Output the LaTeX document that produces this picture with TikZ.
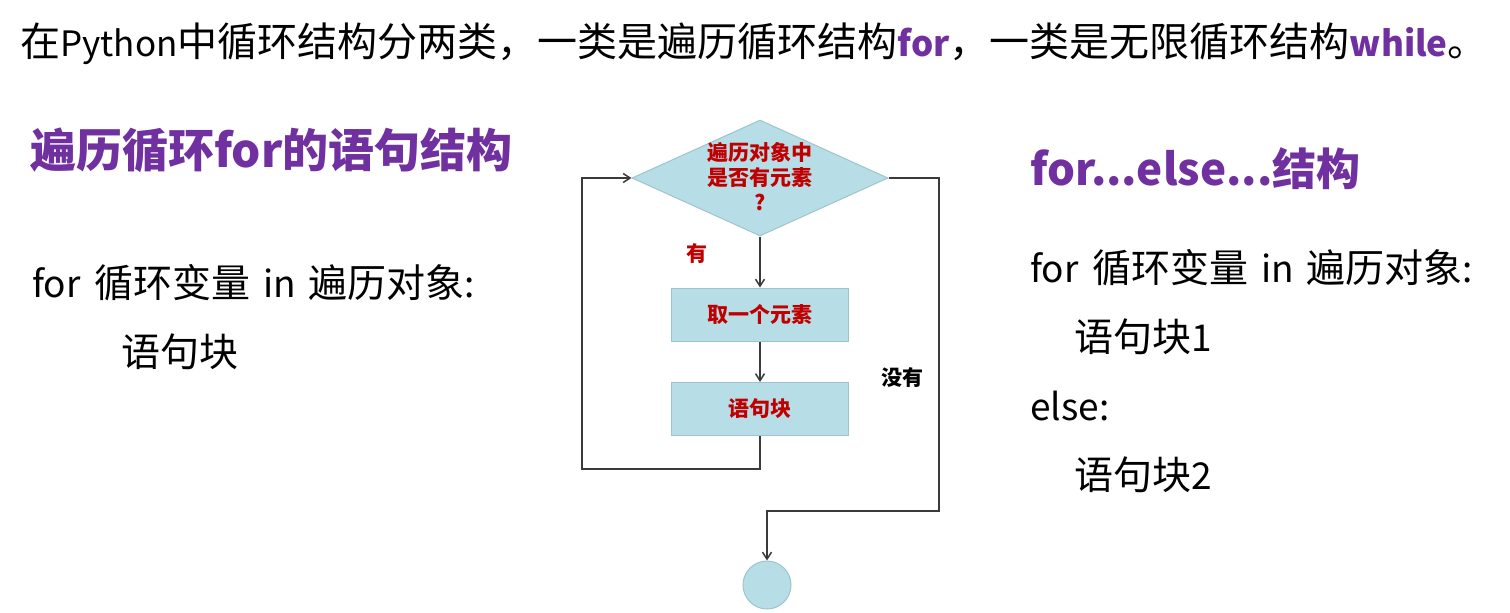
\documentclass[tikz,border=0pt]{standalone}
\usepackage{fontspec}
\usetikzlibrary{arrows.meta,shapes.geometric}
\setmainfont{Noto Sans CJK SC}
\definecolor{purp}{HTML}{7030A0}
\definecolor{redt}{HTML}{C00000}
\definecolor{boxfill}{HTML}{B7DDE6}
\definecolor{boxline}{HTML}{9FC4CD}
\definecolor{conn}{HTML}{3A3A3A}
\newcommand\titlelat[1]{{\fontsize{35}{40}\selectfont #1}}
\newcommand\bodylat[1]{{\fontsize{37}{40}\selectfont #1}}
\tikzset{
  txt/.style={anchor=base west, inner sep=0pt},
  head/.style={txt, text=purp, font=\fontsize{46}{50}\selectfont\bfseries},
  body/.style={txt, font=\fontsize{39}{42}\selectfont},
  flowtxt/.style={text=redt, font=\fontsize{21}{25}\selectfont\bfseries, align=center, inner sep=0pt},
  procbox/.style={draw=boxline, fill=boxfill, line width=1pt, minimum width=177pt, minimum height=53pt, inner sep=0pt},
  conline/.style={draw=conn, line width=1.5pt},
  arr/.style={conline, -{Straight Barb[length=7pt,width=9pt]}},
}
\begin{document}
\begin{tikzpicture}[x=1pt,y=-1pt]
\useasboundingbox (0,0) rectangle (1510,613);
% top line
\node[txt, font=\fontsize{40}{44}\selectfont] (title) at (20,56)
  {在\titlelat{Python}中循环结构分两类，一类是遍历循环结构\textcolor{purp}{\titlelat{\bfseries for}}，一类是无限循环结构\textcolor{purp}{\titlelat{\bfseries while}}。};
% left column
\node[head] (h1) at (30,167) {遍历循环for的语句结构};
\node[body] (l1) at (32,297) {\bodylat{for}\hspace{14pt}循环变量\hspace{13pt}\bodylat{in}\hspace{12pt}遍历对象\bodylat{:}};
\node[body] (l2) at (121,366) {语句块};
% right column
\node[head, font=\fontsize{44}{48}\selectfont\bfseries] (h2) at (1030,185) {for...else...结构};
\node[body] (r1) at (1030,282) {\bodylat{for}\hspace{14pt}循环变量\hspace{13pt}\bodylat{in}\hspace{12pt}遍历对象\bodylat{:}};
\node[body] (r2) at (1074,351) {语句块\bodylat{1}};
\node[body] (r3) at (1030,420) {\bodylat{else:}};
\node[body] (r4) at (1074,489) {语句块\bodylat{2}};
% flowchart
\node[diamond, draw=boxline, fill=boxfill, line width=1pt, minimum width=256pt, minimum height=116pt, inner sep=0pt] (dec) at (760,178) {};
\node[flowtxt] (dectxt) at (760,177) {遍历对象中\\是否有元素\\?};
\node[procbox] (b1) at (760,314.5) {};
\node[flowtxt] (b1t) at (b1.center) {取一个元素};
\node[procbox] (b2) at (760,409) {};
\node[flowtxt] (b2t) at (b2.center) {语句块};
\node[circle, draw=boxline, fill=boxfill, line width=1pt, minimum size=48pt, inner sep=0pt] (endc) at (767,585) {};
\node[flowtxt] (yes) at (697,254) {有};
\node[flowtxt, text=black] (no) at (902,378) {没有};
\coordinate (lb) at (582,469);
\coordinate (rr) at (939,511);
\draw[arr] (dec.south) -- (b1.north);
\draw[arr] (b1.south) -- (b2.north);
\draw[arr] (b2.south) |- (lb) |- (dec.west);
\draw[arr] (dec.east) -| (rr) -| (endc.north);
\end{tikzpicture}
\end{document}
